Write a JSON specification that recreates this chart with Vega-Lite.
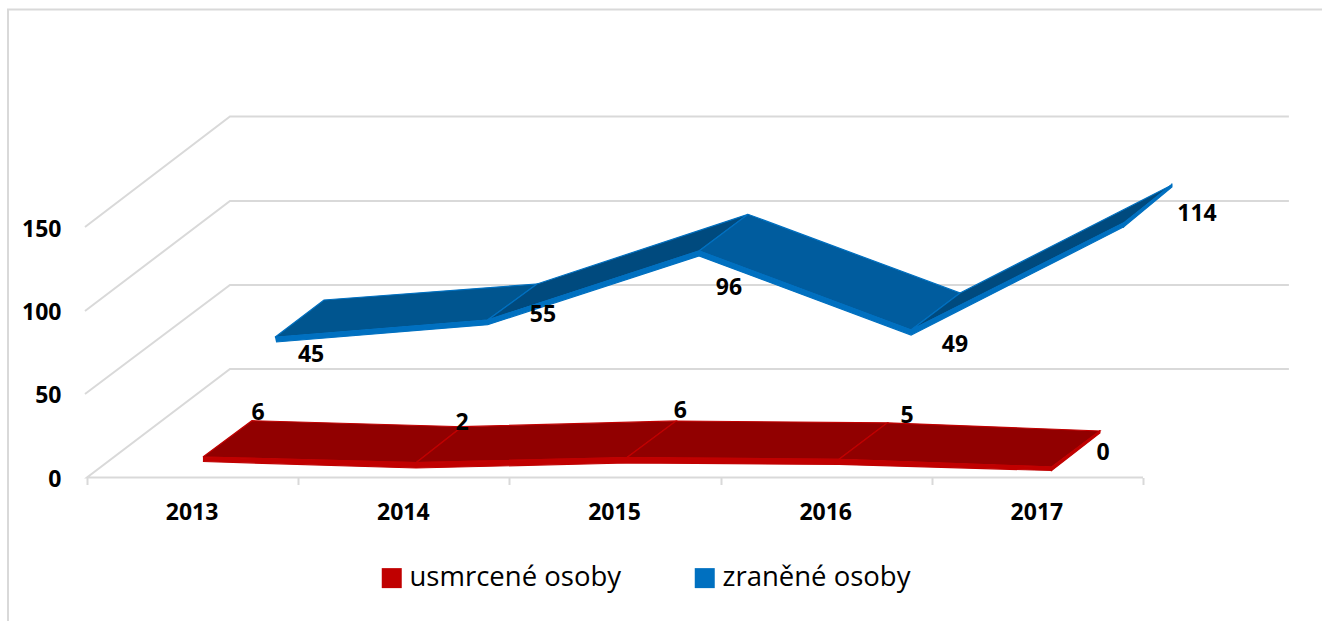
{"$schema":"https://vega.github.io/schema/vega-lite/v6.json","width":1322,"height":621,"padding":0,"autosize":"none","background":"white","datasets":{"grid":[
{"id":"rám","i":1,"x":2018.348,"y":280.24},{"id":"rám","i":2,"x":2012.126,"y":280.24},{"id":"rám","i":3,"x":2012.126,"y":-85.93},
{"id":"0","i":1,"x":2017.5,"y":0},{"id":"0","i":2,"x":2012.5,"y":0},{"id":"0","i":3,"x":2013.177,"y":64.97},{"id":"0","i":4,"x":2018.191,"y":64.97},
{"id":"50","i":1,"x":2012.4905,"y":50},{"id":"50","i":2,"x":2013.177,"y":115.27},{"id":"50","i":3,"x":2018.191,"y":115.27},
{"id":"100","i":1,"x":2012.4905,"y":99.7},{"id":"100","i":2,"x":2013.177,"y":165.57},{"id":"100","i":3,"x":2018.191,"y":165.57},
{"id":"150","i":1,"x":2012.4905,"y":150},{"id":"150","i":2,"x":2013.177,"y":216.17},{"id":"150","i":3,"x":2018.191,"y":216.17}
],"ribbons":[
{"series":"r","part":"usmrcené plocha","poly":"r1","i":1,"x":2013.049,"y":12.28},{"series":"r","part":"usmrcené plocha","poly":"r1","i":2,"x":2014.058,"y":8.86},{"series":"r","part":"usmrcené plocha","poly":"r1","i":3,"x":2014.276,"y":30.42},{"series":"r","part":"usmrcené plocha","poly":"r1","i":4,"x":2013.281,"y":34.01},{"series":"r","part":"usmrcené plocha","poly":"r1","i":5,"x":2013.049,"y":12.28},
{"series":"r","part":"usmrcené plocha","poly":"r2","i":1,"x":2014.058,"y":8.86},{"series":"r","part":"usmrcené plocha","poly":"r2","i":2,"x":2015.057,"y":11.92},{"series":"r","part":"usmrcené plocha","poly":"r2","i":3,"x":2015.289,"y":33.83},{"series":"r","part":"usmrcené plocha","poly":"r2","i":4,"x":2014.276,"y":30.42},{"series":"r","part":"usmrcené plocha","poly":"r2","i":5,"x":2014.058,"y":8.86},
{"series":"r","part":"usmrcené plocha","poly":"r3","i":1,"x":2015.057,"y":11.92},{"series":"r","part":"usmrcené plocha","poly":"r3","i":2,"x":2016.061,"y":10.90},{"series":"r","part":"usmrcené plocha","poly":"r3","i":3,"x":2016.290,"y":32.75},{"series":"r","part":"usmrcené plocha","poly":"r3","i":4,"x":2015.289,"y":33.83},{"series":"r","part":"usmrcené plocha","poly":"r3","i":5,"x":2015.057,"y":11.92},
{"series":"r","part":"usmrcené plocha","poly":"r4","i":1,"x":2016.061,"y":10.90},{"series":"r","part":"usmrcené plocha","poly":"r4","i":2,"x":2017.067,"y":6.29},{"series":"r","part":"usmrcené plocha","poly":"r4","i":3,"x":2017.296,"y":27.84},{"series":"r","part":"usmrcené plocha","poly":"r4","i":4,"x":2016.290,"y":32.75},{"series":"r","part":"usmrcené plocha","poly":"r4","i":5,"x":2016.061,"y":10.90},
{"series":"z","part":"zraněné plocha A","poly":"z1","i":1,"x":2013.390,"y":83.95},{"series":"z","part":"zraněné plocha A","poly":"z1","i":2,"x":2014.397,"y":94.31},{"series":"z","part":"zraněné plocha A","poly":"z1","i":3,"x":2014.631,"y":115.87},{"series":"z","part":"zraněné plocha A","poly":"z1","i":4,"x":2013.622,"y":106.29},{"series":"z","part":"zraněné plocha A","poly":"z1","i":5,"x":2013.390,"y":83.95},
{"series":"z","part":"zraněné stín","poly":"z2","i":1,"x":2014.397,"y":94.31},{"series":"z","part":"zraněné stín","poly":"z2","i":2,"x":2015.398,"y":135.63},{"series":"z","part":"zraněné stín","poly":"z2","i":3,"x":2015.630,"y":157.6},{"series":"z","part":"zraněné stín","poly":"z2","i":4,"x":2014.631,"y":115.87},{"series":"z","part":"zraněné stín","poly":"z2","i":5,"x":2014.397,"y":94.31},
{"series":"z","part":"zraněné plocha B","poly":"z3","i":1,"x":2015.398,"y":135.63},{"series":"z","part":"zraněné plocha B","poly":"z3","i":2,"x":2016.402,"y":88.32},{"series":"z","part":"zraněné plocha B","poly":"z3","i":3,"x":2016.634,"y":110.48},{"series":"z","part":"zraněné plocha B","poly":"z3","i":4,"x":2015.630,"y":157.6},{"series":"z","part":"zraněné plocha B","poly":"z3","i":5,"x":2015.398,"y":135.63},
{"series":"z","part":"zraněné stín","poly":"z4","i":1,"x":2016.402,"y":88.32},{"series":"z","part":"zraněné stín","poly":"z4","i":2,"x":2017.408,"y":152.40},{"series":"z","part":"zraněné stín","poly":"z4","i":3,"x":2017.637,"y":175.15},{"series":"z","part":"zraněné stín","poly":"z4","i":4,"x":2016.634,"y":110.48},{"series":"z","part":"zraněné stín","poly":"z4","i":5,"x":2016.402,"y":88.32},
{"series":"r","part":"usmrcené osoby","poly":"rf","i":1,"x":2013.049,"y":12.28},{"series":"r","part":"usmrcené osoby","poly":"rf","i":2,"x":2014.058,"y":8.86},{"series":"r","part":"usmrcené osoby","poly":"rf","i":3,"x":2015.057,"y":11.92},{"series":"r","part":"usmrcené osoby","poly":"rf","i":4,"x":2016.061,"y":10.90},{"series":"r","part":"usmrcené osoby","poly":"rf","i":5,"x":2017.067,"y":6.29},{"series":"r","part":"usmrcené osoby","poly":"rf","i":6,"x":2017.067,"y":4.19},{"series":"r","part":"usmrcené osoby","poly":"rf","i":7,"x":2016.061,"y":7.84},{"series":"r","part":"usmrcené osoby","poly":"rf","i":8,"x":2015.057,"y":8.68},{"series":"r","part":"usmrcené osoby","poly":"rf","i":9,"x":2014.058,"y":5.69},{"series":"r","part":"usmrcené osoby","poly":"rf","i":10,"x":2013.049,"y":9.58},
{"series":"r","part":"usmrcené osoby","poly":"re","i":1,"x":2017.067,"y":6.29},{"series":"r","part":"usmrcené osoby","poly":"re","i":2,"x":2017.067,"y":4.19},{"series":"r","part":"usmrcené osoby","poly":"re","i":3,"x":2017.296,"y":26.65},{"series":"r","part":"usmrcené osoby","poly":"re","i":4,"x":2017.296,"y":28.44},
{"series":"z","part":"zraněné osoby","poly":"zf","i":1,"x":2013.390,"y":83.95},{"series":"z","part":"zraněné osoby","poly":"zf","i":2,"x":2014.397,"y":94.31},{"series":"z","part":"zraněné osoby","poly":"zf","i":3,"x":2015.398,"y":135.63},{"series":"z","part":"zraněné osoby","poly":"zf","i":4,"x":2016.402,"y":88.32},{"series":"z","part":"zraněné osoby","poly":"zf","i":5,"x":2017.408,"y":152.40},{"series":"z","part":"zraněné osoby","poly":"zf","i":6,"x":2017.408,"y":150.0},{"series":"z","part":"zraněné osoby","poly":"zf","i":7,"x":2016.402,"y":85.33},{"series":"z","part":"zraněné osoby","poly":"zf","i":8,"x":2015.398,"y":132.63},{"series":"z","part":"zraněné osoby","poly":"zf","i":9,"x":2014.397,"y":91.50},{"series":"z","part":"zraněné osoby","poly":"zf","i":10,"x":2013.395,"y":81.14},
{"series":"z","part":"zraněné osoby","poly":"ze","i":1,"x":2017.408,"y":152.40},{"series":"z","part":"zraněné osoby","poly":"ze","i":2,"x":2017.408,"y":150.0},{"series":"z","part":"zraněné osoby","poly":"ze","i":3,"x":2017.637,"y":173.95},{"series":"z","part":"zraněné osoby","poly":"ze","i":4,"x":2017.637,"y":176.05}
],"labels":[
{"rok":2013,"rada":"zraněné osoby","hodnota":45,"x":2013.561,"y":73.35},{"rok":2014,"rada":"zraněné osoby","hodnota":55,"x":2014.659,"y":97.3},{"rok":2015,"rada":"zraněné osoby","hodnota":96,"x":2015.540,"y":113.47},{"rok":2016,"rada":"zraněné osoby","hodnota":49,"x":2016.610,"y":79.34},{"rok":2017,"rada":"zraněné osoby","hodnota":114,"x":2017.756,"y":157.96},
{"rok":2013,"rada":"usmrcené osoby","hodnota":6,"x":2013.310,"y":38.62},{"rok":2014,"rada":"usmrcené osoby","hodnota":2,"x":2014.276,"y":32.63},{"rok":2015,"rada":"usmrcené osoby","hodnota":6,"x":2015.310,"y":39.82},{"rok":2016,"rada":"usmrcené osoby","hodnota":5,"x":2016.383,"y":36.83},{"rok":2017,"rada":"usmrcené osoby","hodnota":0,"x":2017.311,"y":14.67}
]},
"encoding":{
"x":{"field":"x","type":"quantitative","scale":{"domain":[2012.0881,2018.3477],"nice":false,"zero":false},"axis":{"title":null,"grid":false,"domain":false,"offset":-143.5,"values":[2012.5,2013,2013.5,2014,2014.5,2015,2015.5,2016,2016.5,2017,2017.5],"labelExpr":"datum.value%1==0?format(datum.value,'d'):''","tickOpacity":{"expr":"datum.value%1==0?0:1"},"tickColor":"#d9d9d9","tickWidth":2,"tickSize":7,"labelPadding":28,"labelOffset":-1,"labelFont":"Open Sans","labelFontWeight":"bold","labelFontSize":23,"labelColor":"#000000","labelOverlap":false,"labelFlush":false,"labelBaseline":"middle"}},
"y":{"field":"y","type":"quantitative","scale":{"domain":[-85.93,285.93],"nice":false,"zero":false},"axis":{"title":null,"grid":false,"domain":false,"ticks":false,"values":[0,50,100,150],"labelPadding":-61,"labelOffset":2,"labelAlign":"right","labelFont":"Open Sans","labelFontWeight":"bold","labelFontSize":23,"labelColor":"#000000","labelOverlap":false,"labelFlush":false,"labelBaseline":"middle"}}
},
"layer":[
{"data":{"name":"grid"},"mark":{"type":"line","stroke":"#d9d9d9","strokeWidth":2,"interpolate":"linear"},"encoding":{"detail":{"field":"id"},"order":{"field":"i"}}},
{"data":{"name":"ribbons"},"transform":[{"filter":"datum.series=='r'"}],"mark":{"type":"line","stroke":"#c00000","strokeWidth":1.2},"encoding":{"detail":{"field":"poly"},"order":{"field":"i"},"fill":{"field":"part","type":"nominal","scale":{"domain":["usmrcené osoby","zraněné osoby","usmrcené plocha","zraněné plocha A","zraněné plocha B","zraněné stín"],"range":["#c00000","#0070c0","#910000","#00558f","#005c9e","#004a7e"]},"legend":{"values":["usmrcené osoby","zraněné osoby"],"orient":"none","direction":"horizontal","columns":2,"columnPadding":69,"legendX":378,"legendY":564,"padding":0,"title":null,"symbolType":"square","symbolSize":400,"symbolStrokeWidth":0,"labelFont":"Open Sans","labelFontSize":27.5,"labelColor":"#000000","labelOffset":4,"labelLimit":400}}}},
{"data":{"name":"ribbons"},"transform":[{"filter":"datum.series=='z'"}],"mark":{"type":"line","stroke":"#0070c0","strokeWidth":1.2},"encoding":{"detail":{"field":"poly"},"order":{"field":"i"},"fill":{"field":"part","type":"nominal"}}},
{"data":{"name":"labels"},"mark":{"type":"text","font":"Open Sans","fontWeight":"bold","fontSize":23,"color":"#000000","baseline":"middle","align":"center"},"encoding":{"text":{"field":"hodnota","type":"quantitative"}}}
],
"config":{"view":{"stroke":null}}}
